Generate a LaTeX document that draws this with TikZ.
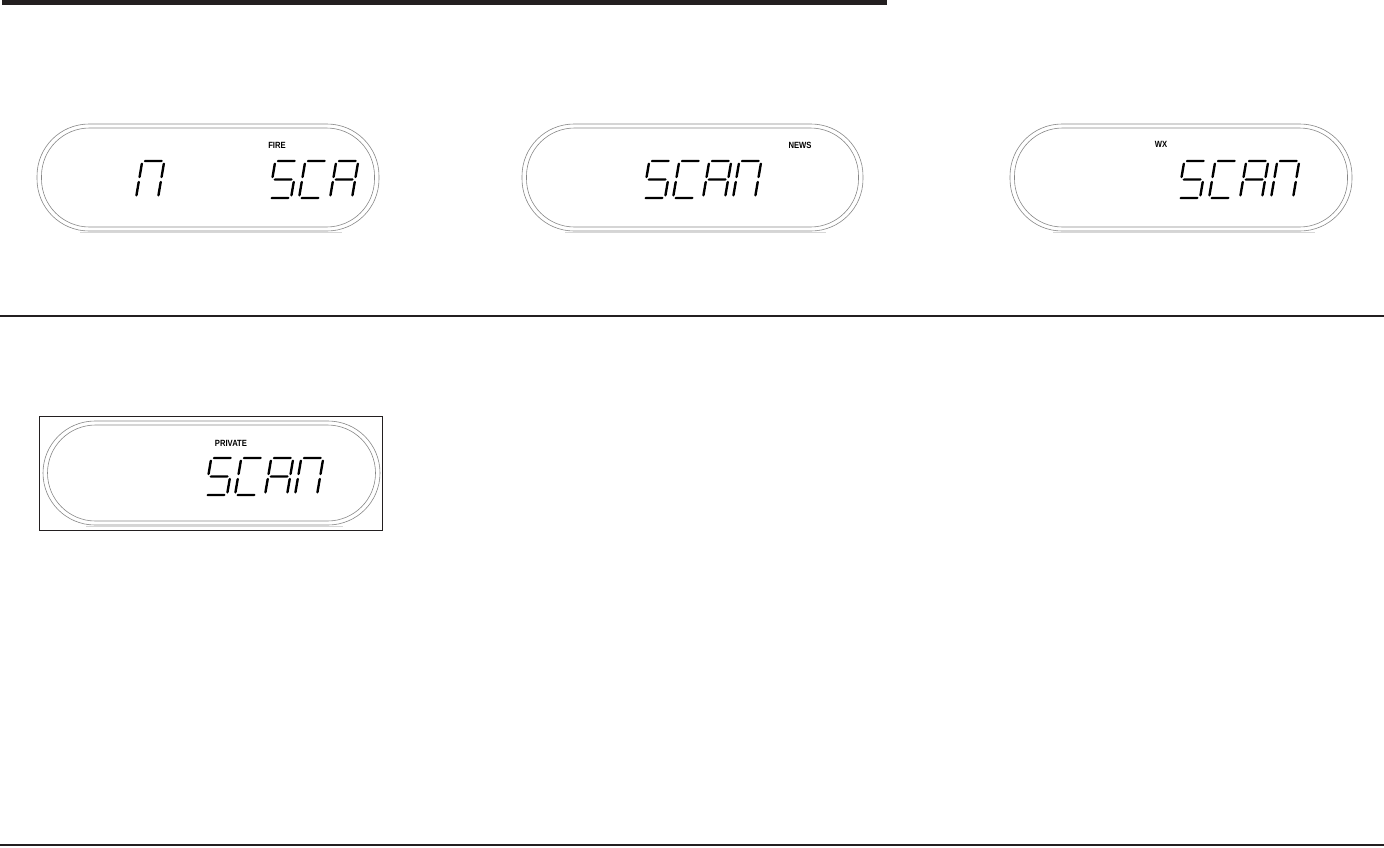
\documentclass[tikz,border=0pt]{standalone}
\usepackage{fontspec}
\setmainfont{Liberation Sans}
\definecolor{rulecol}{RGB}{35,31,32}
\definecolor{lcdline}{RGB}{135,135,135}
\definecolor{lcdshade}{RGB}{215,215,215}
\tikzset{
  lcdouter/.style={draw=lcdline, line width=0.6pt, rounded corners=52pt},
  lcdinner/.style={draw=lcdline, line width=0.6pt, rounded corners=48pt},
  lcdshadow/.style={draw=lcdshade, line width=1.6pt},
  lcdlabel/.style={font=\fontsize{9}{10}\selectfont\bfseries, inner sep=0pt, xscale=0.85, text=black},
  lcdseg/.style={fill=black}
}
% segments in local coordinates (u right, v up), w=22, h=37
\newcommand{\hsegment}[3]{\fill[lcdseg] (#1,#3) -- (#1+1.2,#3+1.2) -- (#2-1.2,#3+1.2) -- (#2,#3) -- (#2-1.2,#3-1.2) -- (#1+1.2,#3-1.2) -- cycle;}
\newcommand{\vsegment}[3]{\fill[lcdseg] (#1,#2) -- (#1+1.2,#2+1.2) -- (#1+1.2,#3-1.2) -- (#1,#3) -- (#1-1.2,#3-1.2) -- (#1-1.2,#2+1.2) -- cycle;}
\newcommand{\lcdsega}{\hsegment{1.5}{20.5}{37}}
\newcommand{\lcdsegb}{\vsegment{22}{19.8}{35.5}}
\newcommand{\lcdsegc}{\vsegment{22}{1.5}{17.2}}
\newcommand{\lcdsegd}{\hsegment{1.5}{20.5}{0}}
\newcommand{\lcdsege}{\vsegment{0}{1.5}{17.2}}
\newcommand{\lcdsegf}{\vsegment{0}{19.8}{35.5}}
\newcommand{\lcdsegg}{\hsegment{1.5}{20.5}{18.5}}
\newcommand{\lcdchar}[3]{\begin{scope}[shift={(#1,#2)},xslant=0.17,yscale=-1]\foreach \s in {#3}{\csname lcdseg\s\endcsname}\end{scope}}
\newcommand{\lcddisplay}[4]{% left, top, right, bottom (outer)
  \draw[lcdouter] (#1,#2) rectangle (#3,#4);
  \draw[lcdinner] (#1+4.5,#2+4) rectangle (#3-4.5,#4-4);
  \draw[lcdshadow] (#1+43,#4+1.6) -- (#3-37,#4+1.6);
}
\begin{document}
\begin{tikzpicture}[x=1pt,y=-1pt]
\useasboundingbox (0,0) rectangle (1384,847);
% rules
\fill[rulecol] (2,0) rectangle (887,5);
\fill[rulecol] (0,314.5) rectangle (1384,316.5);
\fill[rulecol] (0,844) rectangle (1384,846);

% display 1
\lcddisplay{37}{124}{379}{231}
\node[lcdlabel] (fire) at (277,145) {FIRE};
\lcdchar{136}{198}{a,b,c,e,f}
\lcdchar{269}{198}{a,f,g,c,d}
\lcdchar{299}{198}{a,f,e,d}
\lcdchar{330}{198}{a,b,c,e,f,g}

% display 2
\lcddisplay{522}{124}{863}{231}
\node[lcdlabel] (news) at (800,145) {NEWS};
\lcdchar{643}{198}{a,f,g,c,d}
\lcdchar{673}{198}{a,f,e,d}
\lcdchar{703}{198}{a,b,c,e,f,g}
\lcdchar{733}{198}{a,b,c,e,f}

% display 3
\lcddisplay{1010}{124}{1352}{231}
\node[lcdlabel] (wx) at (1161,144) {WX};
\lcdchar{1178}{198}{a,f,g,c,d}
\lcdchar{1209}{198}{a,f,e,d}
\lcdchar{1240}{198}{a,b,c,e,f,g}
\lcdchar{1271}{198}{a,b,c,e,f}

% display 4 (boxed)
\draw[rulecol, line width=1pt] (39.5,416) rectangle (382,530);
\lcddisplay{43}{421}{380}{525}
\node[lcdlabel] (private) at (231,443) {PRIVATE};
\lcdchar{205}{495}{a,f,g,c,d}
\lcdchar{235}{495}{a,f,e,d}
\lcdchar{265}{495}{a,b,c,e,f,g}
\lcdchar{295}{495}{a,b,c,e,f}
\end{tikzpicture}
\end{document}
